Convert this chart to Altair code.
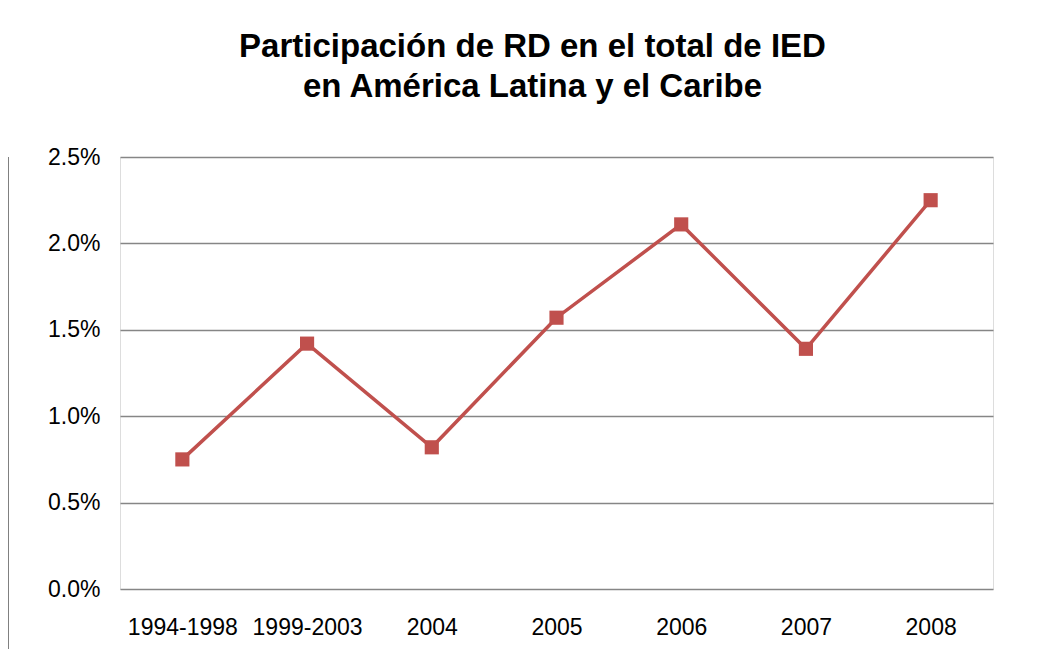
import altair as alt
import pandas as pd

periods = ["1994-1998", "1999-2003", "2004", "2005", "2006", "2007", "2008"]
shares = [0.0075, 0.0142, 0.0082, 0.0157, 0.0211, 0.0139, 0.0225]
y_ticks = [0.0, 0.005, 0.01, 0.015, 0.02, 0.025]

df = pd.DataFrame({"periodo": periods, "participacion": shares})

FONT = "Liberation Sans"
RED = "#C0504D"

x = alt.X("periodo:N", sort=periods, title=None,
          scale=alt.Scale(type="point", paddingOuter=0.5),
          axis=alt.Axis(labelAngle=0, labelFontSize=23, labelFont=FONT, labelColor="#000000",
                        tickSize=0, labelPadding=27, domain=False, grid=False))
y = alt.Y("participacion:Q", title=None,
          scale=alt.Scale(domain=[0, 0.025], nice=False),
          axis=alt.Axis(values=y_ticks, format=".1%", labelFontSize=23, labelFont=FONT,
                        labelColor="#000000", tickSize=0, labelPadding=20, domain=False,
                        grid=True, gridColor="#868686", gridWidth=1.3))

line = alt.Chart(df).mark_line(color=RED, strokeWidth=3.5).encode(x=x, y=y)
pts = alt.Chart(df).mark_point(shape="square", filled=True, color=RED, size=200, opacity=1).encode(x=x, y=y)
frame = alt.Chart(df).mark_rule(color="#808080", strokeWidth=2).encode(
    x=alt.value(-112), y=alt.value(0), y2=alt.value(513))

chart = (frame + line + pts).properties(
    width=873, height=432,
    padding={"left": 112, "top": 149, "right": 37, "bottom": 60},
    autosize=alt.AutoSizeParams(type="none"),
    title=alt.TitleParams(
        ["Participación de RD en el total de IED", "en América Latina y el Caribe"],
        font=FONT, fontSize=33, fontWeight="bold", color="#000000",
        anchor="middle", dx=-24, offset=42, lineHeight=40),
).configure_view(stroke="#808080", strokeWidth=1.5).configure(background="white")

chart.save("out.html", embed_options={"renderer": "svg", "actions": False})
